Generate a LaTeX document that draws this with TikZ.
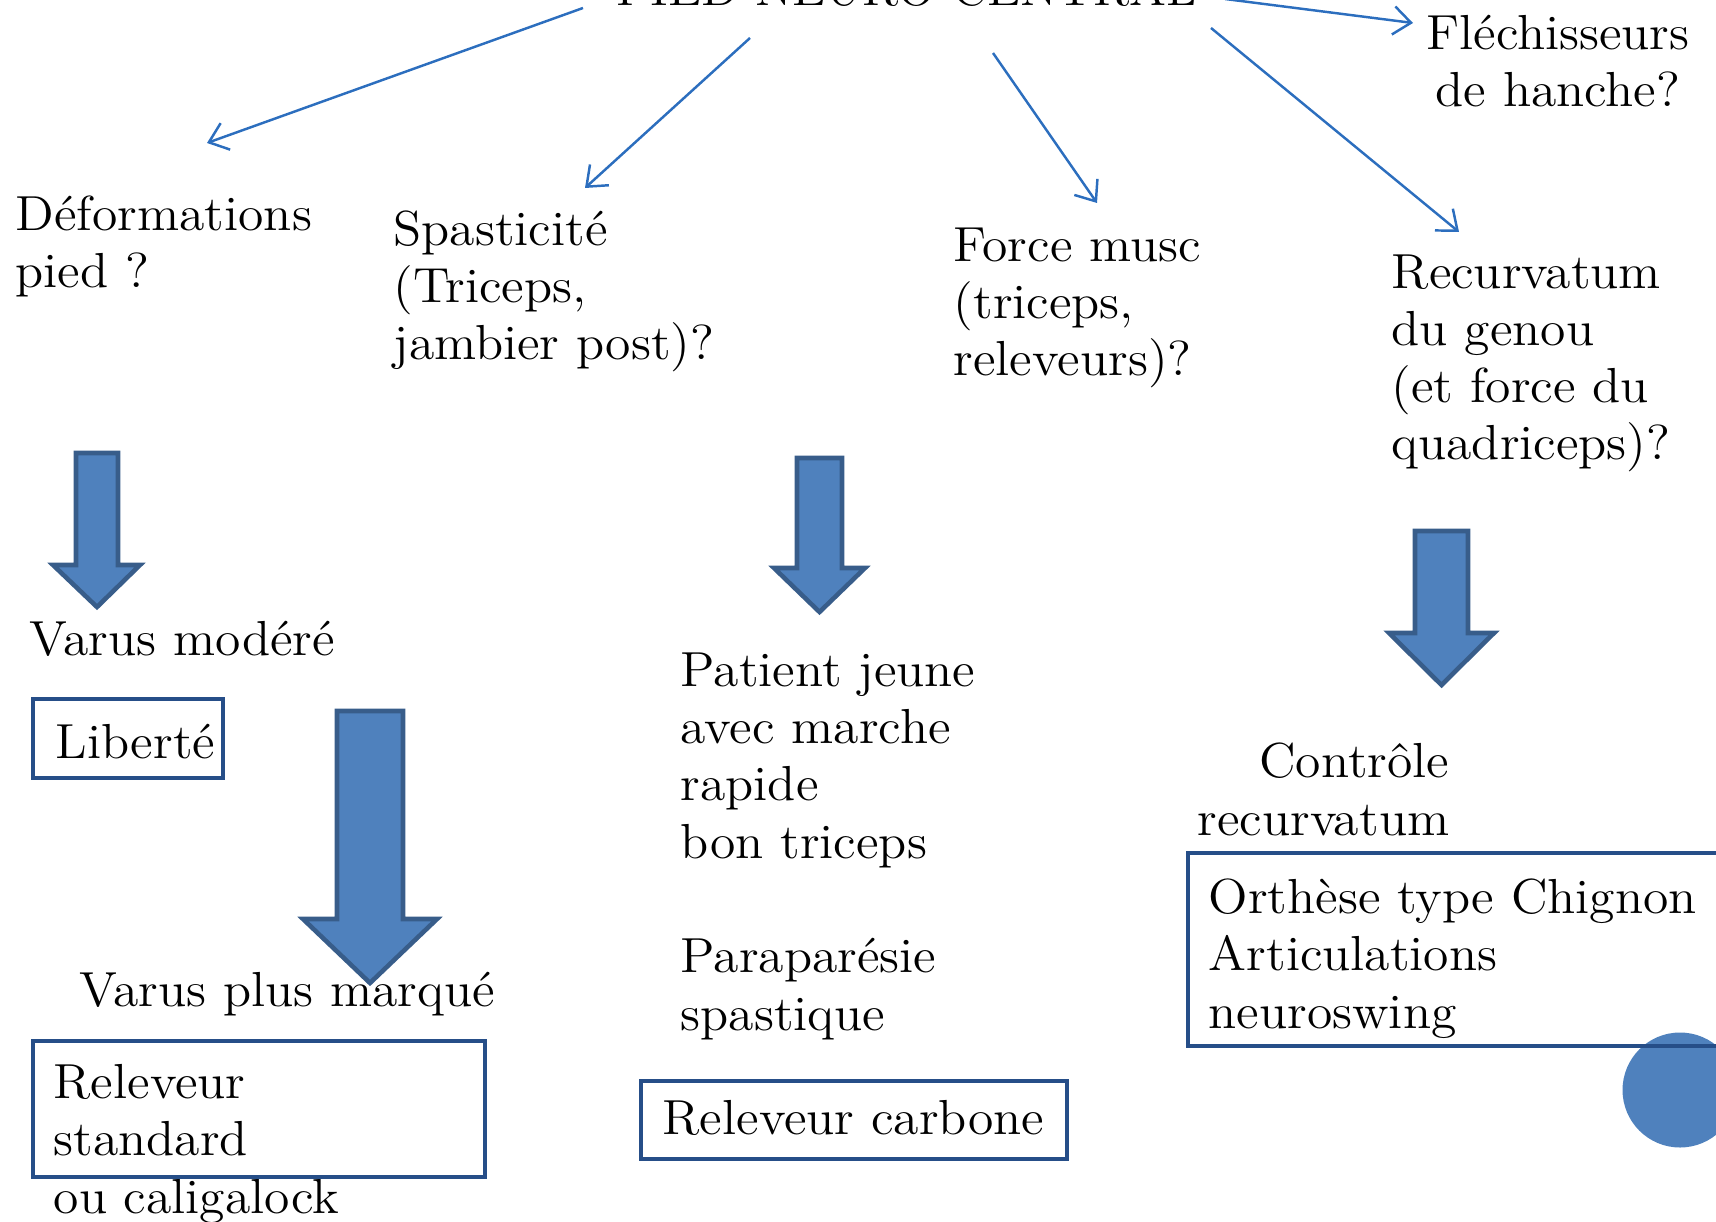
\documentclass[tikz,border=0pt]{standalone}
\usepackage{fontspec}
\setmainfont{Latin Modern Roman}[FakeStretch=1.05]
\usepackage{tikz}
\usetikzlibrary{arrows.meta}
\definecolor{linkblue}{RGB}{44,110,190}
\definecolor{framenavy}{RGB}{38,78,136}
\definecolor{arrowfill}{RGB}{79,129,189}
\definecolor{arrowedge}{RGB}{56,93,138}

\begin{document}
\begin{tikzpicture}[x=0.01cm,y=-0.01cm,
    txt/.style={inner sep=0pt,anchor=base west,align=left,font=\fontsize{14}{16.3}\selectfont},
    link/.style={draw=linkblue,line width=0.7pt,-{Straight Barb[length=5pt,width=8pt]}},
    frame/.style={draw=framenavy,line width=1pt},
    bigarrow/.style={fill=arrowfill,draw=arrowedge,line width=1.3pt}]
      \useasboundingbox (0,0) rectangle (1716,1222);
      \clip (0,0) rectangle (1716,1222);
      \node[txt,anchor=base,font=\fontsize{13.6}{16.3}\selectfont] (title) at (907,6) {PIED NEURO CENTRAL};
      \node[txt] (deform) at (15,288) {Déformations\\pied ?};
      \node[txt] (spast) at (393,360) {Spasticité\\(Triceps,\\jambier post)?};
      \node[txt] (force) at (953,376) {Force musc\\(triceps,\\releveurs)?};
      \node[txt] (recurv) at (1391,460) {Recurvatum\\du genou\\(et force du\\quadriceps)?};
      \node[txt,anchor=base,align=center] (flech) at (1558,107) {Fléchisseurs\\de hanche?};
      \coordinate (s1) at (583,8);    \coordinate (e1) at (207,143);
      \coordinate (s2) at (750,38);   \coordinate (e2) at (585,188);
      \coordinate (s3) at (993,53);   \coordinate (e3) at (1097,203);
      \coordinate (s4) at (1211,28);  \coordinate (e4) at (1459,232);
      \coordinate (s5) at (1225,-1);  \coordinate (e5) at (1413,23);
      \draw[link] (s1) -- (e1);
      \draw[link] (s2) -- (e2);
      \draw[link] (s3) -- (e3);
      \draw[link] (s4) -- (e4);
      \draw[link] (s5) -- (e5);
      \node[txt] (varmod) at (29,655) {Varus modéré};
      \node[txt] (liberte) at (55,758) {Liberté};
      \draw[frame] (33,699) rectangle (223,778);
      \node[txt] (varplus) at (79,1006) {Varus plus marqué};
      \node[txt] (releveur) at (53,1213) {Releveur\\standard\\ou caligalock};
      \draw[frame] (33,1041) rectangle (485,1177);
      \node[txt] (patient) at (680,1030) {Patient jeune\\avec marche\\rapide\\bon triceps\\[16.3pt]Paraparésie\\spastique};
      \node[txt] (carbone) at (662,1134) {Releveur carbone};
      \draw[frame] (641,1081) rectangle (1067,1159);
      \node[txt,anchor=base east,align=right] (controle) at (1450,835) {Contrôle\\recurvatum};
      \fill[arrowfill] (1680,1090) circle (57.5);
      \node[txt] (orthese) at (1208,1028) {Orthèse type Chignon\\Articulations\\neuroswing};
      \draw[frame] (1188,853) rectangle (1740,1046);
      \draw[bigarrow] (76,453) -- (118,453) -- (118,565) -- (140,565) -- (97,607) -- (53,565) -- (76,565) -- cycle;
      \draw[bigarrow] (337,711) -- (403,711) -- (403,919) -- (437,919) -- (370,983) -- (303,919) -- (337,919) -- cycle;
      \draw[bigarrow] (797,458) -- (842,458) -- (842,568) -- (865,568) -- (819.5,612) -- (774,568) -- (797,568) -- cycle;
      \draw[bigarrow] (1415,531) -- (1468,531) -- (1468,633) -- (1494,633) -- (1441.5,685) -- (1389,633) -- (1415,633) -- cycle;
    \end{tikzpicture}
\end{document}
